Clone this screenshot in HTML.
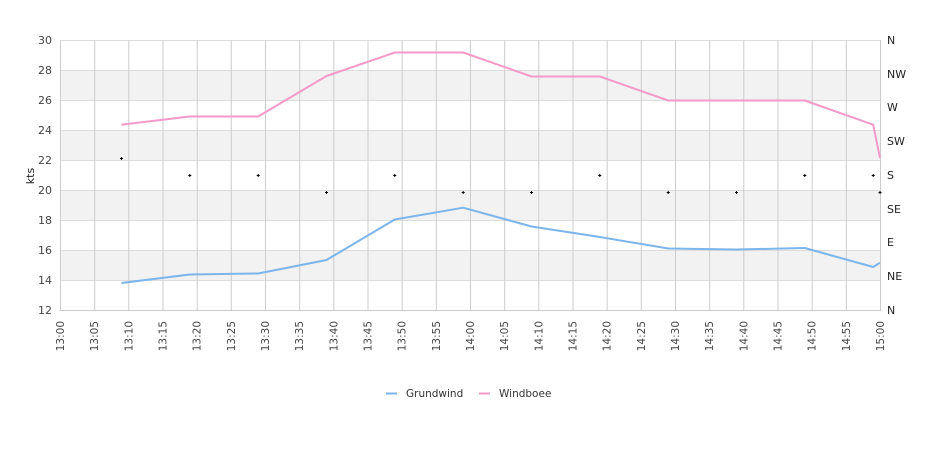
<!DOCTYPE html>
<html><head><meta charset="utf-8"><style>
html,body{margin:0;padding:0;background:#fff;}
svg{display:block;font-family:"DejaVu Sans","Liberation Sans",sans-serif;}
</style></head><body>
<svg width="940" height="450" viewBox="0 0 940 450" xmlns="http://www.w3.org/2000/svg">
<rect width="940" height="450" fill="#fff"/>
<g fill="#f2f2f2">
<rect x="60" y="70" width="820" height="30"/>
<rect x="60" y="130" width="820" height="30"/>
<rect x="60" y="190" width="820" height="30"/>
<rect x="60" y="250" width="820" height="30"/>
</g>
<g stroke="#dddddd" stroke-width="1">
<line x1="60" y1="40.5" x2="880" y2="40.5"/>
<line x1="60" y1="70.5" x2="880" y2="70.5"/>
<line x1="60" y1="100.5" x2="880" y2="100.5"/>
<line x1="60" y1="130.5" x2="880" y2="130.5"/>
<line x1="60" y1="160.5" x2="880" y2="160.5"/>
<line x1="60" y1="190.5" x2="880" y2="190.5"/>
<line x1="60" y1="220.5" x2="880" y2="220.5"/>
<line x1="60" y1="250.5" x2="880" y2="250.5"/>
<line x1="60" y1="280.5" x2="880" y2="280.5"/>
</g>
<g stroke="#cccccc" stroke-width="1">
<line x1="60.5" y1="40" x2="60.5" y2="310"/>
<line x1="94.7" y1="40" x2="94.7" y2="310"/>
<line x1="128.8" y1="40" x2="128.8" y2="310"/>
<line x1="163" y1="40" x2="163" y2="310"/>
<line x1="197.2" y1="40" x2="197.2" y2="310"/>
<line x1="231.3" y1="40" x2="231.3" y2="310"/>
<line x1="265.5" y1="40" x2="265.5" y2="310"/>
<line x1="299.7" y1="40" x2="299.7" y2="310"/>
<line x1="333.8" y1="40" x2="333.8" y2="310"/>
<line x1="368" y1="40" x2="368" y2="310"/>
<line x1="402.2" y1="40" x2="402.2" y2="310"/>
<line x1="436.3" y1="40" x2="436.3" y2="310"/>
<line x1="470.5" y1="40" x2="470.5" y2="310"/>
<line x1="504.7" y1="40" x2="504.7" y2="310"/>
<line x1="538.8" y1="40" x2="538.8" y2="310"/>
<line x1="573" y1="40" x2="573" y2="310"/>
<line x1="607.2" y1="40" x2="607.2" y2="310"/>
<line x1="641.3" y1="40" x2="641.3" y2="310"/>
<line x1="675.5" y1="40" x2="675.5" y2="310"/>
<line x1="709.7" y1="40" x2="709.7" y2="310"/>
<line x1="743.8" y1="40" x2="743.8" y2="310"/>
<line x1="778" y1="40" x2="778" y2="310"/>
<line x1="812.2" y1="40" x2="812.2" y2="310"/>
<line x1="846.3" y1="40" x2="846.3" y2="310"/>
<line x1="880.5" y1="40" x2="880.5" y2="310"/>
</g>
<line x1="60" y1="310.5" x2="881" y2="310.5" stroke="#cccccc"/>
<g font-size="11" fill="#444" text-anchor="end">
<text x="52" y="44">30</text>
<text x="52" y="74">28</text>
<text x="52" y="104">26</text>
<text x="52" y="134">24</text>
<text x="52" y="164">22</text>
<text x="52" y="194">20</text>
<text x="52" y="224">18</text>
<text x="52" y="254">16</text>
<text x="52" y="284">14</text>
<text x="52" y="314">12</text>
</g>
<text transform="translate(34,176) rotate(-90)" font-size="11" fill="#222" text-anchor="middle">kts</text>
<g font-size="11" fill="#222">
<text x="887" y="44">N</text>
<text x="887" y="78">NW</text>
<text x="887" y="111">W</text>
<text x="887" y="145">SW</text>
<text x="887" y="179">S</text>
<text x="887" y="213">SE</text>
<text x="887" y="246">E</text>
<text x="887" y="280">NE</text>
<text x="887" y="314">N</text>
</g>
<g font-size="10.5" fill="#444" text-anchor="end">
<text transform="translate(64,321) rotate(-90)">13:00</text>
<text transform="translate(98.2,321) rotate(-90)">13:05</text>
<text transform="translate(132.3,321) rotate(-90)">13:10</text>
<text transform="translate(166.5,321) rotate(-90)">13:15</text>
<text transform="translate(200.7,321) rotate(-90)">13:20</text>
<text transform="translate(234.8,321) rotate(-90)">13:25</text>
<text transform="translate(269,321) rotate(-90)">13:30</text>
<text transform="translate(303.2,321) rotate(-90)">13:35</text>
<text transform="translate(337.3,321) rotate(-90)">13:40</text>
<text transform="translate(371.5,321) rotate(-90)">13:45</text>
<text transform="translate(405.7,321) rotate(-90)">13:50</text>
<text transform="translate(439.8,321) rotate(-90)">13:55</text>
<text transform="translate(474,321) rotate(-90)">14:00</text>
<text transform="translate(508.2,321) rotate(-90)">14:05</text>
<text transform="translate(542.3,321) rotate(-90)">14:10</text>
<text transform="translate(576.5,321) rotate(-90)">14:15</text>
<text transform="translate(610.7,321) rotate(-90)">14:20</text>
<text transform="translate(644.8,321) rotate(-90)">14:25</text>
<text transform="translate(679,321) rotate(-90)">14:30</text>
<text transform="translate(713.2,321) rotate(-90)">14:35</text>
<text transform="translate(747.3,321) rotate(-90)">14:40</text>
<text transform="translate(781.5,321) rotate(-90)">14:45</text>
<text transform="translate(815.7,321) rotate(-90)">14:50</text>
<text transform="translate(849.8,321) rotate(-90)">14:55</text>
<text transform="translate(884,321) rotate(-90)">15:00</text>
</g>
<polyline fill="none" stroke="#f49ac8" stroke-width="2" stroke-linejoin="round"
points="121.5,124.7 189.8,116.5 258.2,116.5 326.5,76 394.8,52.5 463.2,52.5 531.5,76.5 599.8,76.5 668.2,100.5 736.5,100.5 804.8,100.5 873.2,124.7 880,158"/>
<polyline fill="none" stroke="#7cb5ec" stroke-width="2" stroke-linejoin="round"
points="121.5,283 189.8,274.5 258.2,273.5 326.5,260 394.8,219.5 463.2,207.7 531.5,226.5 599.8,237 668.2,248.5 736.5,249.5 804.8,248 873.2,267 880,262.7"/>
<g stroke="#000" stroke-width="1">
<path d="M120,158.5h3M121.5,157v3"/>
<path d="M188.3,175.5h3M189.8,174v3"/>
<path d="M256.7,175.5h3M258.2,174v3"/>
<path d="M325,192.5h3M326.5,191v3"/>
<path d="M393.3,175.5h3M394.8,174v3"/>
<path d="M461.7,192.5h3M463.2,191v3"/>
<path d="M530,192.5h3M531.5,191v3"/>
<path d="M598.3,175.5h3M599.8,174v3"/>
<path d="M666.7,192.5h3M668.2,191v3"/>
<path d="M735,192.5h3M736.5,191v3"/>
<path d="M803.3,175.5h3M804.8,174v3"/>
<path d="M871.7,175.5h3M873.2,174v3"/>
<path d="M878.5,192.5h3M880,191v3"/>
</g>
<line x1="386" y1="393.5" x2="397" y2="393.5" stroke="#7cb5ec" stroke-width="2"/>
<text x="406" y="397" font-size="10.5" fill="#333">Grundwind</text>
<line x1="479" y1="393.5" x2="490" y2="393.5" stroke="#f49ac8" stroke-width="2"/>
<text x="499" y="397" font-size="10.5" fill="#333">Windboee</text>
</svg>
</body></html>
